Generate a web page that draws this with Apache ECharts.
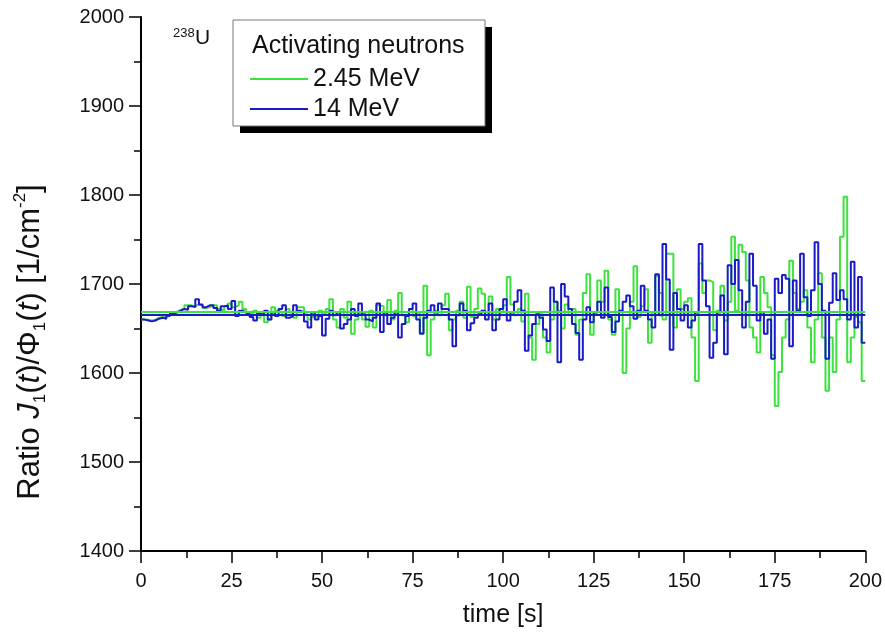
<!DOCTYPE html>
<html>
<head>
<meta charset="utf-8">
<script src="https://cdn.jsdelivr.net/npm/echarts@6/dist/echarts.min.js"></script>
<style>
html,body{margin:0;padding:0;background:#fff;}
#chart{width:885px;height:636px;}
</style>
</head>
<body>
<div id="chart"></div>
<script>
// ---- data (one value per 1-s time bin, t = 0..199) ----
const seriesNames = ['2.45 MeV', '14 MeV'];
const green = [
1660,1660,1659,1660,1662,1663,1662,1665,1667,1669,
1671,1673,1676,1676,1675,1677,1676,1673,1674,1676,
1676,1672,1670,1675,1678,1674,1676,1680,1672,1668,
1667,1670,1662,1665,1657,1660,1674,1670,1668,1664,
1672,1668,1662,1674,1674,1666,1660,1663,1664,1670,
1666,1672,1683,1660,1651,1672,1662,1680,1644,1660,
1666,1660,1652,1670,1651,1676,1675,1665,1682,1660,
1670,1690,1665,1657,1672,1664,1668,1645,1698,1620,
1660,1670,1665,1676,1689,1648,1660,1670,1680,1662,
1697,1663,1672,1695,1689,1665,1686,1660,1672,1668,
1676,1708,1677,1665,1672,1658,1689,1640,1615,1655,
1666,1640,1623,1660,1680,1670,1650,1677,1665,1672,
1643,1660,1690,1711,1643,1668,1704,1680,1715,1660,
1643,1694,1670,1600,1650,1680,1720,1663,1675,1694,
1634,1668,1709,1690,1660,1734,1734,1651,1694,1672,
1680,1684,1640,1591,1723,1690,1704,1702,1648,1670,
1698,1659,1680,1753,1670,1744,1736,1704,1651,1640,
1623,1708,1690,1674,1620,1563,1601,1640,1660,1726,
1690,1672,1680,1693,1651,1612,1660,1712,1640,1580,
1640,1601,1660,1753,1798,1612,1640,1663,1657,1591
];
const blue = [
1660,1659,1658,1659,1661,1662,1661,1664,1667,1668,
1670,1672,1671,1675,1674,1683,1677,1674,1676,1676,
1673,1670,1675,1676,1672,1681,1664,1670,1668,1666,
1663,1659,1667,1665,1670,1660,1668,1664,1672,1676,
1662,1664,1676,1670,1668,1658,1651,1668,1660,1664,
1642,1661,1670,1665,1668,1650,1655,1660,1672,1664,
1678,1666,1660,1658,1662,1678,1646,1668,1655,1662,
1668,1640,1655,1664,1672,1678,1660,1644,1662,1670,
1676,1668,1678,1672,1672,1660,1630,1665,1678,1670,
1648,1656,1662,1666,1670,1660,1678,1648,1660,1672,
1683,1659,1668,1680,1693,1670,1625,1642,1655,1666,
1662,1649,1636,1696,1680,1612,1700,1686,1672,1655,
1645,1615,1660,1674,1657,1668,1680,1662,1696,1663,
1646,1658,1670,1680,1687,1675,1661,1670,1698,1670,
1660,1651,1711,1665,1745,1705,1626,1690,1672,1659,
1676,1651,1659,1668,1745,1704,1675,1617,1634,1668,
1687,1621,1721,1700,1727,1693,1651,1680,1734,1698,
1659,1668,1644,1660,1616,1706,1690,1710,1706,1630,
1704,1670,1734,1685,1664,1693,1747,1700,1670,1616,
1679,1712,1682,1693,1683,1660,1725,1651,1708,1634
];
const meanGreen = 1669;
const meanBlue = 1666;
const xTicks = {min: 0, max: 200, interval: 25};
const yTicks = {min: 1400, max: 2000, interval: 100};

const FONT = 'Liberation Sans, Arial, Helvetica, sans-serif';
const GREEN = '#3ee23e';
const BLUE = '#1a1ac8';

function stepData(arr) {
  const d = arr.map((v, i) => [i, v]);
  d.push([arr.length, arr[arr.length - 1]]);
  return d;
}

const chart = echarts.init(document.getElementById('chart'), null, {renderer: 'canvas'});

const axisCommon = {
  axisLine: {show: true, lineStyle: {color: '#000', width: 2}},
  axisTick: {show: true, inside: false, length: 12, lineStyle: {color: '#000', width: 1.5}},
  minorTick: {show: true, splitNumber: 2, length: 7, lineStyle: {color: '#000', width: 1.5}},
  splitLine: {show: false},
  minorSplitLine: {show: false},
  axisLabel: {color: '#111', fontSize: 20, fontFamily: FONT, showMinLabel: true, showMaxLabel: true,
    formatter: v => String(v)}
};

chart.setOption({
  animation: false,
  backgroundColor: '#fff',
  grid: {left: 141, right: 17, top: 17, bottom: 85, containLabel: false},
  xAxis: Object.assign({}, axisCommon, {
    type: 'value',
    min: xTicks.min, max: xTicks.max, interval: xTicks.interval,
    name: 'time [s]',
    nameLocation: 'middle',
    nameGap: 52,
    nameTextStyle: {color: '#111', fontSize: 25, fontFamily: FONT},
    axisLabel: Object.assign({}, axisCommon.axisLabel, {margin: 20})
  }),
  yAxis: Object.assign({}, axisCommon, {
    type: 'value',
    min: yTicks.min, max: yTicks.max, interval: yTicks.interval,
    axisLabel: Object.assign({}, axisCommon.axisLabel, {margin: 17})
  }),
  legend: {
    data: seriesNames,
    orient: 'vertical',
    left: 245,
    top: 61,
    icon: 'rect',
    itemWidth: 58,
    itemHeight: 2,
    itemGap: 4,
    z: 20,
    selectedMode: false,
    textStyle: {color: '#111', fontSize: 25, fontFamily: FONT, lineHeight: 26}
  },
  graphic: [
    {type: 'rect', z: 10, shape: {x: 240, y: 27, width: 252, height: 106}, style: {fill: '#000'}},
    {type: 'rect', z: 11, shape: {x: 233, y: 20, width: 252, height: 106}, style: {fill: '#fff', stroke: '#777', lineWidth: 1}},
    {type: 'text', z: 12, style: {text: 'Activating neutrons', x: 252, y: 46, fill: '#111', font: '25px ' + FONT, textVerticalAlign: 'middle', verticalAlign: 'middle'}},
    {type: 'text', z: 12, style: {text: '238', x: 173, y: 27, fill: '#111', font: '13px ' + FONT, textVerticalAlign: 'top', verticalAlign: 'top'}},
    {type: 'text', z: 12, style: {text: 'U', x: 195, y: 38, fill: '#111', font: '21px ' + FONT, textVerticalAlign: 'middle', verticalAlign: 'middle'}},
    {
      type: 'text', z: 12, x: 30, y: 342, rotation: Math.PI / 2,
      style: {
        text: 'Ratio {i|J}{sub|1}(' + '{i|t}' + ')/\u03A6{sub|1}(' + '{i|t}' + ') [1/cm{sup|-2}]',
        fill: '#111',
        font: '31px ' + FONT,
        align: 'center', verticalAlign: 'middle',
        textAlign: 'center', textVerticalAlign: 'middle',
        rich: {
          i: {fontStyle: 'italic', fontSize: 31, fontFamily: FONT, fill: '#111', lineHeight: 37},
          sub: {fontSize: 17, fontFamily: FONT, fill: '#111', lineHeight: 18, verticalAlign: 'bottom'},
          sup: {fontSize: 17, fontFamily: FONT, fill: '#111', lineHeight: 18, verticalAlign: 'top'}
        }
      }
    }
  ],
  series: [
    {
      name: seriesNames[0],
      type: 'line',
      step: 'end',
      symbol: 'none',
      data: stepData(green),
      lineStyle: {color: GREEN, width: 2},
      itemStyle: {color: GREEN},
      z: 2,
      markLine: {
        silent: true, symbol: 'none', label: {show: false},
        lineStyle: {color: GREEN, width: 2, type: 'solid'},
        data: [{yAxis: meanGreen}]
      }
    },
    {
      name: seriesNames[1],
      type: 'line',
      step: 'end',
      symbol: 'none',
      data: stepData(blue),
      lineStyle: {color: BLUE, width: 2},
      itemStyle: {color: BLUE},
      z: 3,
      markLine: {
        silent: true, symbol: 'none', label: {show: false},
        lineStyle: {color: BLUE, width: 2, type: 'solid'},
        data: [{yAxis: meanBlue}]
      }
    }
  ]
});
</script>
</body>
</html>
